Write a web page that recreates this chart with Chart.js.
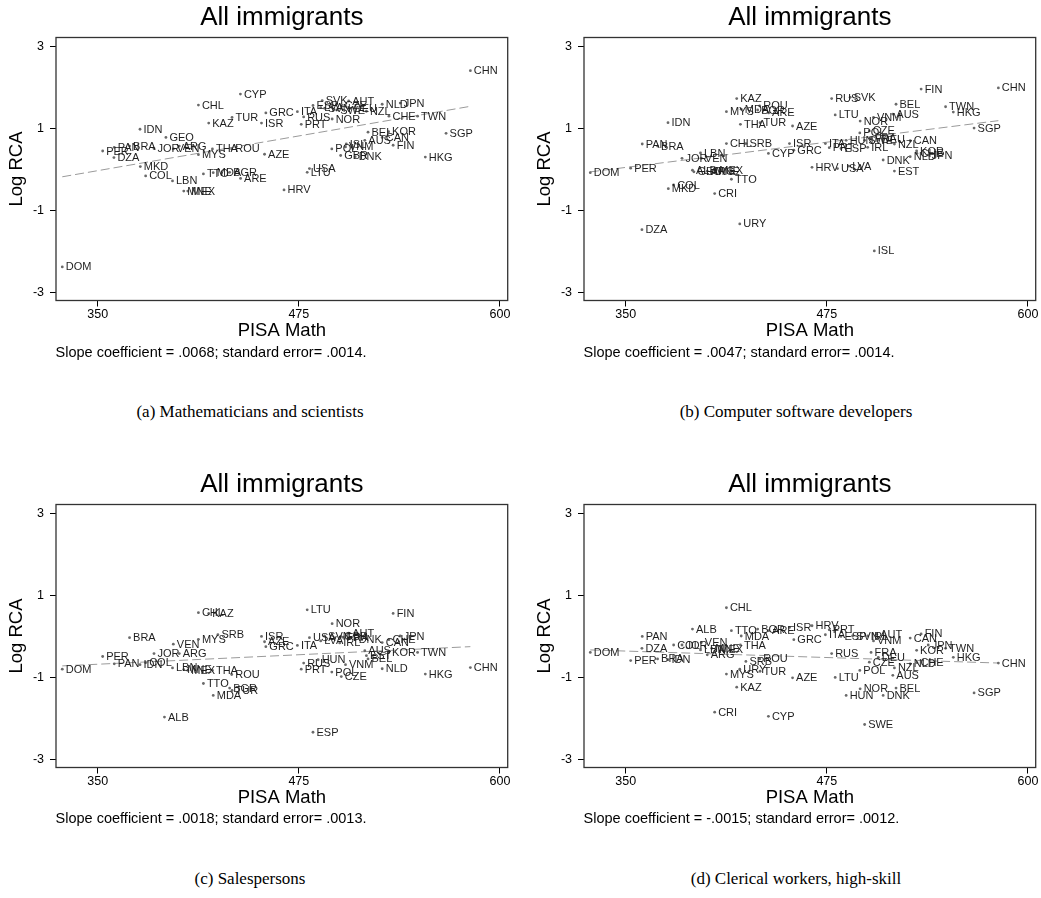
<!DOCTYPE html>
<html>
<head>
<meta charset="utf-8">
<script src="https://cdn.jsdelivr.net/npm/chart.js@4.4.0/dist/chart.umd.min.js"></script>
<style>
  body { margin: 0; background: #fff; width: 1041px; height: 898px; overflow: hidden; position: relative;
         font-family: "Liberation Sans", Arial, sans-serif; }
  .panel { position: absolute; width: 513px; height: 345px; }
  .note { position: absolute; font-size: 14.5px; line-height: 16px; color: #000; white-space: nowrap; }
  .caption { position: absolute; width: 400px; text-align: center; font-family: "Liberation Serif", serif;
             font-size: 17px; color: #000; white-space: nowrap; }
</style>
</head>
<body>
<canvas id="chartA" class="panel" width="513" height="345" style="left:0;top:0"></canvas>
<canvas id="chartB" class="panel" width="513" height="345" style="left:528px;top:0"></canvas>
<canvas id="chartC" class="panel" width="513" height="345" style="left:0;top:466.5px"></canvas>
<canvas id="chartD" class="panel" width="513" height="345" style="left:528px;top:466.5px"></canvas>

<div class="note" style="left:55.6px;top:343.7px">Slope coefficient = .0068; standard error= .0014.</div>
<div class="note" style="left:583.6px;top:343.7px">Slope coefficient = .0047; standard error= .0014.</div>
<div class="note" style="left:55.6px;top:810.2px">Slope coefficient = .0018; standard error= .0013.</div>
<div class="note" style="left:583.6px;top:810.2px">Slope coefficient = -.0015; standard error= .0012.</div>

<div class="caption" style="left:50px;top:402px">(a) Mathematicians and scientists</div>
<div class="caption" style="left:596px;top:402px">(b) Computer software developers</div>
<div class="caption" style="left:50px;top:868.5px">(c) Salespersons</div>
<div class="caption" style="left:596px;top:868.5px">(d) Clerical workers, high-skill</div>

<script>
const countries = ["DOM","PER","PAN","DZA","BRA","IDN","MKD","COL","JOR","ALB",
    "GEO","LBN","VEN","ARG","MNE","MEX","CRI","CHL","MYS","TTO",
    "KAZ","URY","MDA","THA","SRB","ROU","TUR","BGR","ARE","CYP",
    "ISR","AZE","GRC","HRV","ITA","PRT","RUS","LTU","USA","ESP",
    "LVA","HUN","SVK","SVN","NOR","POL","SWE","CZE","IRL","GBR",
    "FRA","VNM","AUT","ISL","DEU","DNK","BEL","AUS","NZL","EST",
    "CAN","NLD","CHE","KOR","FIN","JPN","TWN","HKG","SGP","CHN"];

const pisaMath = [328, 353.1, 360.3, 360.1, 369.8, 376.3, 376.5, 379.8, 385, 391.5,
    392.4, 396.5, 397, 400.7, 403.5, 406, 405.3, 412.6, 412.6, 415.7,
    419, 420.9, 421.8, 421.3, 424.7, 433.3, 433.5, 432, 438.8, 438.7,
    451.8, 453.7, 454.5, 465.8, 474.1, 476.5, 478, 480.2, 481.6, 483.8,
    488.6, 487, 489.5, 491, 495.7, 495.5, 498.5, 501.4, 500.4, 501,
    502.5, 504, 506, 504.5, 507, 510, 518, 516, 517, 517,
    526.8, 526.8, 531, 530.8, 533.6, 538, 548.8, 553.6, 566.5, 581.6];

// log RCA, one value per country above (null = not shown)
const rcaMath = [-2.38, 0.45, 0.54, 0.29, 0.57, 0.98, 0.07, -0.16, 0.51, null,
    0.78, -0.28, 0.5, 0.57, -0.53, -0.53, null, 1.57, 0.36, -0.11,
    1.13, null, -0.08, 0.5, null, 0.5, 1.27, -0.07, -0.22, 1.84,
    1.13, 0.37, 1.38, -0.5, 1.41, 1.10, 1.28, -0.07, 0.02, 1.56,
    1.51, null, 1.68, 1.49, 1.23, 0.50, 1.45, 1.55, null, 0.34,
    null, 0.55, 1.67, 0.62, 1.49, 0.31, 0.91, 0.71, 1.42, null,
    0.78, 1.59, 1.30, 0.92, 0.59, 1.62, 1.30, 0.30, 0.88, 2.41];

const rcaSoftware = [-0.08, 0.03, 0.62, -1.47, 0.57, 1.14, -0.47, -0.38, 0.27, -0.02,
    -0.06, 0.40, 0.27, -0.04, -0.05, -0.02, -0.59, 0.63, 1.41, -0.24,
    1.73, -1.33, 1.47, 1.10, 0.63, 1.55, 1.14, 1.45, 1.38, 0.39,
    0.63, 1.06, 0.47, 0.05, 0.63, 0.53, 1.73, 1.33, 0.02, 0.51,
    0.08, 0.71, 1.76, null, 1.18, 0.89, 0.71, 0.94, 0.54, null,
    0.76, 1.27, null, -1.99, 0.73, 0.23, 1.59, 1.35, 0.62, -0.04,
    0.70, 0.31, 0.39, 0.45, 1.96, 0.35, 1.53, 1.40, 1.01, 1.99];

const rcaSales = [-0.80, -0.49, -0.67, null, -0.03, -0.69, null, -0.64, -0.42, -1.97,
    null, -0.77, -0.19, -0.42, -0.81, -0.83, null, 0.58, -0.07, -1.15,
    0.56, null, -1.44, -0.83, 0.04, -0.93, -1.32, -1.26, null, null,
    0.0, -0.13, -0.25, null, -0.22, -0.80, -0.65, 0.65, -0.03, -2.34,
    -0.11, -0.57, null, 0.01, 0.31, -0.87, null, -0.98, -0.16, 0.0,
    -0.02, -0.69, 0.08, null, null, -0.08, -0.55, -0.35, null, -0.47,
    -0.15, -0.79, -0.08, -0.39, 0.56, 0.01, -0.39, -0.92, null, -0.76];

const rcaClerical = [-0.39, -0.59, 0.0, -0.29, -0.55, -0.57, null, -0.21, -0.21, 0.18,
    null, -0.33, -0.15, -0.45, -0.29, -0.31, -1.85, 0.70, -0.92, 0.14,
    -1.24, -0.80, 0.01, -0.21, -0.61, -0.55, -0.85, 0.18, 0.14, -1.95,
    0.22, -1.01, -0.08, 0.26, 0.04, 0.16, -0.42, -1.0, null, 0.0,
    null, -1.44, null, 0.01, -1.28, -0.83, -2.15, -0.63, 0.01, null,
    -0.39, -0.11, 0.05, null, -0.51, -1.44, -1.26, -0.95, -0.77, null,
    -0.04, -0.67, -0.64, -0.34, 0.06, -0.21, -0.29, -0.51, -1.38, -0.65];

// fitted line ends
const fitX = [328, 581.6];
const fitMath = [-0.18, 1.54];
const fitSoftware = [-0.06, 1.19];
const fitSales = [-0.72, -0.25];
const fitClerical = [-0.33, -0.65];

const xTicks = [350, 475, 600];
const yTicks = [-3, -1, 1, 3];

Chart.defaults.font.family = '"Liberation Sans", Arial, sans-serif';
Chart.defaults.color = "#000";

const pointLabels = {
    id: "pointLabels",
    afterDatasetsDraw(chart) {
        const ctx = chart.ctx;
        const meta = chart.getDatasetMeta(0);
        const names = chart.data.datasets[0].names;
        ctx.save();
        ctx.font = '11px "Liberation Sans", Arial, sans-serif';
        ctx.fillStyle = "#1e1e1e";
        ctx.textBaseline = "middle";
        meta.data.forEach((p, i) => ctx.fillText(names[i], p.x + 3.5, p.y + 0.5));
        ctx.restore();
    }
};

const plotBox = {
    id: "plotBox",
    afterDraw(chart) {
        const { left, top, right, bottom } = chart.chartArea;
        const ctx = chart.ctx;
        ctx.save();
        ctx.strokeStyle = "#333";
        ctx.lineWidth = 1.3;
        ctx.strokeRect(left, top, right - left, bottom - top);
        ctx.restore();
    }
};

function makePanel(id, rca, fitY) {
    const pts = [];
    const names = [];
    countries.forEach((c, i) => {
        if (rca[i] !== null) {
            pts.push({ x: pisaMath[i], y: rca[i] });
            names.push(c);
        }
    });

    new Chart(document.getElementById(id), {
        type: "scatter",
        data: {
            datasets: [{
                data: pts,
                names,
                pointRadius: 1.4,
                pointBackgroundColor: "#6a6a6a",
                pointBorderWidth: 0
            }, {
                type: "line",
                data: [{ x: fitX[0], y: fitY[0] }, { x: fitX[1], y: fitY[1] }],
                borderColor: "#9a9a9a",
                borderWidth: 1,
                borderDash: [9, 4],
                pointRadius: 0,
                fill: false
            }]
        },
        options: {
            responsive: false,
            animation: false,
            layout: { padding: { left: 0, right: 5.3, top: 0, bottom: 0 } },
            plugins: {
                legend: { display: false },
                tooltip: { enabled: false },
                title: {
                    display: true,
                    fullSize: false,
                    text: "All immigrants",
                    color: "#000",
                    font: { size: 26, weight: "normal" },
                    padding: { top: 2.4, bottom: 3.9 }
                }
            },
            scales: {
                x: {
                    type: "linear",
                    min: 324.1,
                    max: 604.8,
                    afterBuildTicks: s => { s.ticks = xTicks.map(v => ({ value: v })); },
                    afterFit: s => { s.height = 44.5; },
                    grid: { drawOnChartArea: false, drawTicks: true, tickLength: 6, tickColor: "#000", tickWidth: 1 },
                    border: { display: false },
                    ticks: { font: { size: 12.5 }, color: "#000", padding: 1, maxRotation: 0, autoSkip: false },
                    title: { display: true, text: "PISA Math", color: "#000", font: { size: 18.5 }, padding: { top: 0, bottom: 3.4 } }
                },
                y: {
                    type: "linear",
                    min: -3.2,
                    max: 3.22,
                    afterBuildTicks: s => { s.ticks = yTicks.map(v => ({ value: v })); },
                    afterFit: s => { s.width = 56; },
                    grid: { drawOnChartArea: false, drawTicks: true, tickLength: 6, tickColor: "#000", tickWidth: 1 },
                    border: { display: false },
                    ticks: { font: { size: 12.5 }, color: "#000", padding: 6, autoSkip: false },
                    title: { display: true, text: "Log RCA", color: "#000", font: { size: 18.5 }, padding: { top: 6, bottom: 0 } }
                }
            }
        },
        plugins: [pointLabels, plotBox]
    });
}

makePanel("chartA", rcaMath, fitMath);
makePanel("chartB", rcaSoftware, fitSoftware);
makePanel("chartC", rcaSales, fitSales);
makePanel("chartD", rcaClerical, fitClerical);
</script>
</body>
</html>
